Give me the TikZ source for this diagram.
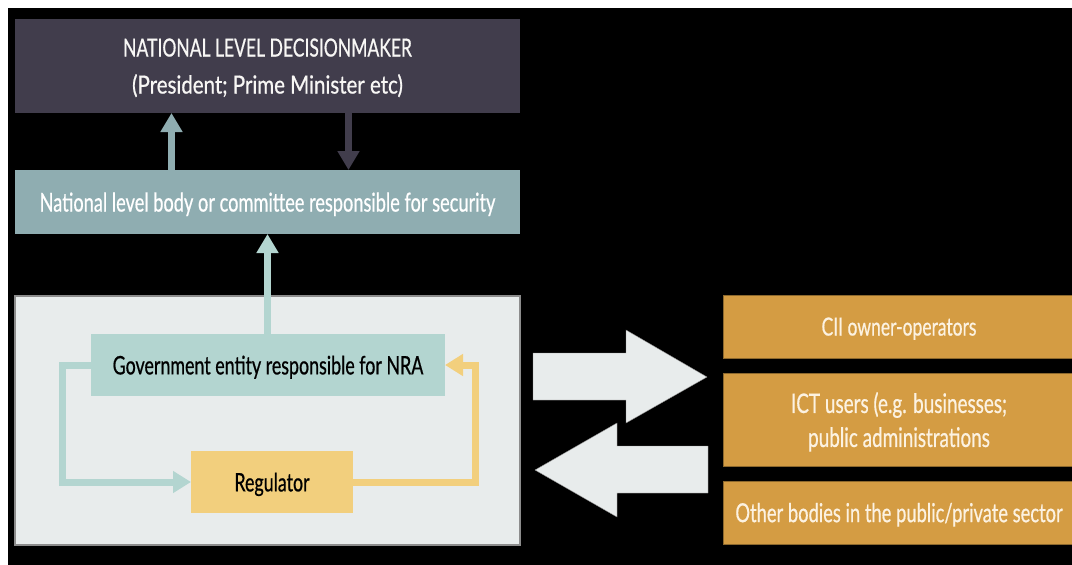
\documentclass[tikz,border=0pt]{standalone}
\usepackage{fontspec}
\setmainfont[FakeStretch=0.7,FakeBold=0.6]{Lato}
\usetikzlibrary{arrows.meta}

\definecolor{topfill}{RGB}{65,61,76}
\definecolor{commfill}{RGB}{143,173,177}
\definecolor{govfill}{RGB}{179,213,208}
\definecolor{panelfill}{RGB}{232,236,236}
\definecolor{panelline}{RGB}{140,140,140}
\definecolor{regfill}{RGB}{242,207,125}
\definecolor{orfill}{RGB}{212,156,67}
\definecolor{orline}{RGB}{140,104,45}
\definecolor{lighttext}{RGB}{248,247,245}
\definecolor{creamtext}{RGB}{252,242,225}

\tikzset{
  box/.style={draw=none, inner sep=0pt, outer sep=0pt, align=center, text depth=0pt},
  fatarrow/.style={line width=7pt, -{Triangle[width=21pt,length=19pt]}},
  loopline/.style={line width=7pt, line join=miter},
  bigarrow/.style={fill=panelfill, draw=panelline, line width=0.4pt},
  orbox/.style={box, fill=orfill, draw=orline, line width=0.8pt, minimum width=352pt,
    text=creamtext},
}

\begin{document}
\begin{tikzpicture}[x=1pt, y=-1pt]
  % page: white frame with black ground
  \fill[white] (0,0) rectangle (1072,565);
  \fill[black] (8,8) rectangle (1072,565);
  \useasboundingbox (0,0) rectangle (1072,565);

  % top decision maker
  \node[box, fill=topfill, minimum width=505pt, minimum height=94pt, text=lighttext,
        text depth=-4pt, font=\fontsize{25}{37}\selectfont]
    (top) at (267.5,66)
    {NATIONAL LEVEL DECISIONMAKER\\\scalebox{1.17}[1]{(President; Prime Minister etc)}};

  % national committee
  \node[box, fill=commfill, minimum width=505pt, minimum height=64pt, text=white,
        font=\fontsize{26}{30}\selectfont]
    (comm) at (267.5,202) {National level body or committee responsible for security};

  % panel with NRA loop
  \node[box, fill=panelfill, draw=panelline, line width=1.2pt,
        minimum width=505pt, minimum height=249pt] (panel) at (267.5,420.5) {};

  \node[box, fill=govfill, minimum width=354pt, minimum height=62pt, text=black,
        font=\fontsize{25.5}{30}\selectfont]
    (gov) at (268,365) {Government entity responsible for NRA};

  \node[box, fill=regfill, minimum width=162pt, minimum height=62pt, text=black,
        font=\fontsize{25.5}{30}\selectfont]
    (reg) at (272,482) {Regulator};

  % stakeholder boxes
  \node[orbox, minimum height=63pt, text depth=-3pt, font=\fontsize{25}{34}\selectfont]
    (cii) at (899,326.5) {CII owner-operators};
  \node[orbox, minimum height=93pt, text depth=-4pt, font=\fontsize{27}{34}\selectfont]
    (ict) at (899,419.5) {ICT users (e.g. businesses;\\public administrations};
  \node[orbox, minimum height=63pt, text depth=-2pt, font=\fontsize{26.2}{34}\selectfont]
    (oth) at (899,512.5) {Other bodies in the public/private sector};

  % guide coordinates for the vertical arrows
  \coordinate (xa) at (171.5,0);
  \coordinate (xb) at (348.5,0);
  \coordinate (xc) at (267.5,0);
  \coordinate (xl) at (62,0);
  \coordinate (xr) at (475,0);

  % arrows between top and committee
  \draw[fatarrow, commfill] (comm.north -| xa) -- (top.south -| xa);
  \draw[fatarrow, topfill] (top.south -| xb) -- (comm.north -| xb);
  % government entity reports up
  \draw[fatarrow, govfill] (gov.north -| xc) -- (comm.south -| xc);

  % loop between government entity and regulator
  \draw[loopline, govfill, -{Triangle[width=21pt,length=18pt]}]
    (gov.west) -- (gov.west -| xl) -- (reg.west -| xl) -- (reg.west);
  \draw[loopline, regfill, -{Triangle[width=21pt,length=18pt]}]
    (reg.east) -- (reg.east -| xr) -- (gov.east -| xr) -- (gov.east);

  % exchange arrows between panel and stakeholders
  \filldraw[bigarrow] (533,353) -- (626,353) -- (626,330) -- (707,377)
    -- (626,423) -- (626,400) -- (533,400) -- cycle;
  \filldraw[bigarrow] (708,446) -- (617,446) -- (617,423) -- (535,470)
    -- (617,517) -- (617,493) -- (708,493) -- cycle;
\end{tikzpicture}
\end{document}
